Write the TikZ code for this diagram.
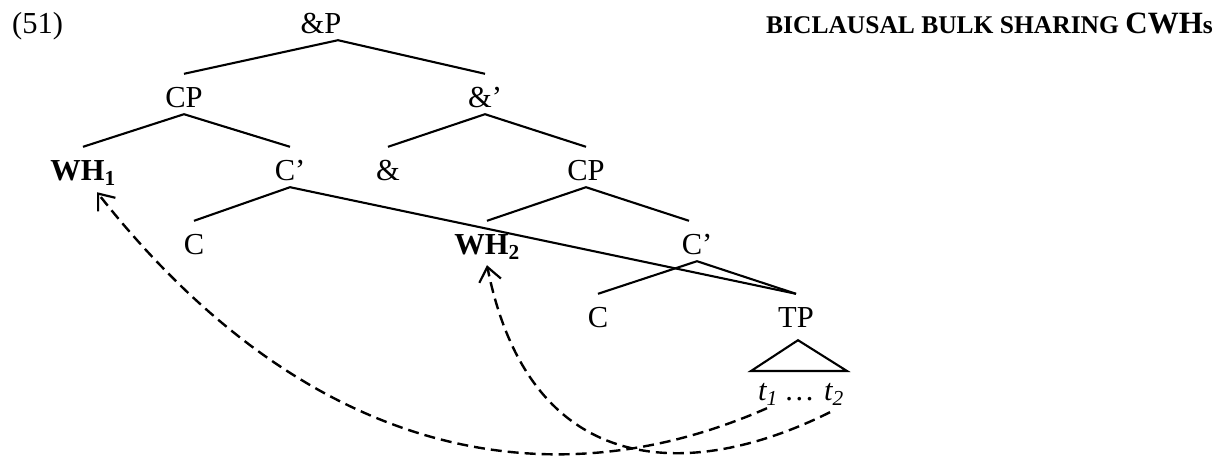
\documentclass[tikz,border=0pt]{standalone}
\usepackage{fontspec}
\setmainfont{Liberation Serif}
\usetikzlibrary{arrows.meta,calc}

\tikzset{
  lbl/.style={anchor=base, inner xsep=0pt, inner ysep=7pt,
              text height=26pt, text depth=0pt,
              font=\fontsize{30.5}{36}\selectfont},
  branch/.style={line width=2.1pt},
  move/.style={line width=2.4pt, dash pattern=on 11pt off 6pt,
               -{Straight Barb[length=14pt,width=22pt,line width=2.2pt]}}
}

\begin{document}
\begin{tikzpicture}[x=1pt,y=-1pt]
  \useasboundingbox (0,0) rectangle (1224,463);

  % example number and heading
  \node[anchor=base west, inner sep=0pt, font=\fontsize{30.5}{36}\selectfont] (num) at (12,33) {(51)};
  \node[anchor=base east, inner sep=0pt] (title) at (1213,33)
    {\bfseries\fontsize{25.5}{30}\selectfont BICLAUSAL BULK SHARING {\fontsize{31}{36}\selectfont CWH}s};

  % tree labels
  \node[lbl] (andP)  at (321,33)  {\&P};
  \node[lbl] (cpL)   at (184,107) {CP};
  \node[lbl] (andB)  at (485,107) {\&’};
  \node[lbl] (wh1)   at (83,180)  {\textbf{WH\textsubscript{1}}};
  \node[lbl] (cbL)   at (290,180) {C’};
  \node[lbl] (amp)   at (388,180) {\&};
  \node[lbl] (cpR)   at (586,180) {CP};
  \node[lbl] (cL)    at (194,254) {C};
  \node[lbl] (wh2)   at (487,254) {\textbf{WH\textsubscript{2}}};
  \node[lbl] (cbR)   at (697,254) {C’};
  \node[lbl] (cR)    at (598,327) {C};
  \node[lbl] (tp)    at (796,327) {TP};
  \node[lbl] (t1)    at (768,400) {\textit{t\textsubscript{1}}};
  \node[lbl] (dots)  at (800,400) {\textit{…}};
  \node[lbl] (t2)    at (834,400) {\textit{t\textsubscript{2}}};

  % branches
  \draw[branch] (cpL.north) -- ($(andP.south)+(17,0)$) -- (andB.north);
  \draw[branch] (wh1.north) -- (cpL.south) -- (cbL.north);
  \draw[branch] (amp.north) -- (andB.south) -- (cpR.north);
  \draw[branch] (cL.north) -- (cbL.south) -- (tp.north);
  \draw[branch] (wh2.north) -- (cpR.south) -- ($(cbR.north)+(-8,0)$);
  \draw[branch] (cR.north) -- (cbR.south) -- (tp.north);

  % triangle under TP
  \coordinate (apex) at ($(tp.south)+(2,6)$);
  \draw[branch] (apex) -- (751,371) -- (847,371) -- cycle;

  % movement arrows
  \draw[move] ($(t1.south)+(-1,1)$) .. controls (540,508) and (300,450) .. ($(wh1.south)+(14,5)$);
  \draw[move] ($(t2.south)+(-4,5)$) .. controls (690,482) and (530,480) .. ($(wh2.south)+(0,4)$);
\end{tikzpicture}
\end{document}
